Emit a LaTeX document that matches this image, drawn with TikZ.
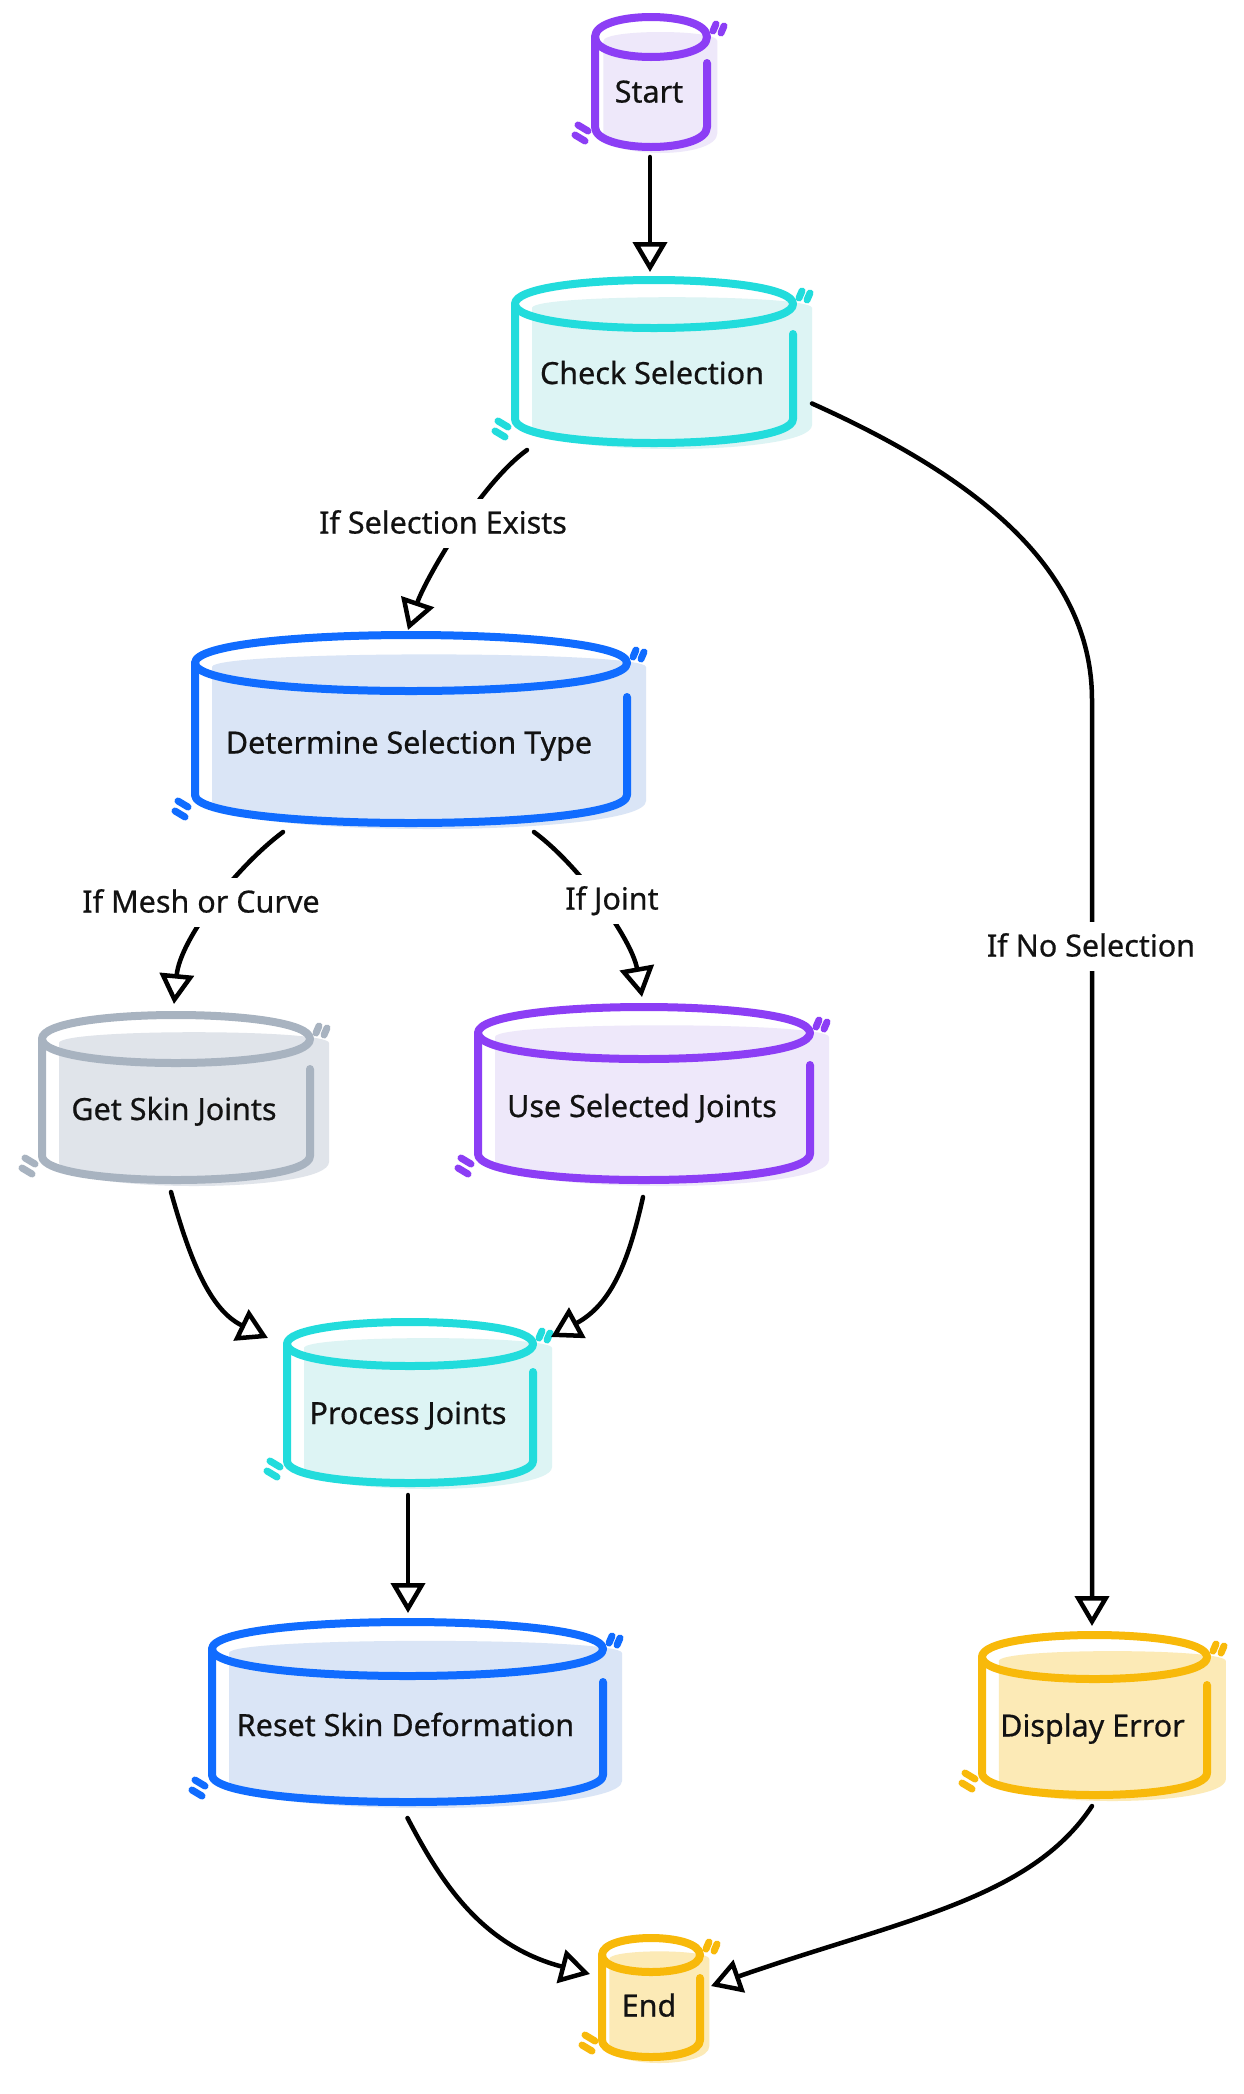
\documentclass[tikz,border=0pt]{standalone}
\usepackage{fontspec}
\setmainfont{Noto Sans}
\newfontfamily\sketchfont{Noto Sans}[FakeBold=0.6]
\usetikzlibrary{arrows.meta}
\definecolor{pustroke}{RGB}{140,62,245}
\definecolor{pufill}{RGB}{238,232,250}
\definecolor{cystroke}{RGB}{34,220,220}
\definecolor{cyfill}{RGB}{221,244,244}
\definecolor{blstroke}{RGB}{16,108,255}
\definecolor{blfill}{RGB}{218,229,246}
\definecolor{grstroke}{RGB}{168,179,192}
\definecolor{grfill}{RGB}{224,228,234}
\definecolor{yestroke}{RGB}{248,185,10}
\definecolor{yefill}{RGB}{252,234,182}
\definecolor{txtcol}{RGB}{18,18,18}

\newcommand{\sketchcyl}[8]{%
  \pgfmathsetmacro{\cyL}{#2}%
  \pgfmathsetmacro{\cyT}{#3}%
  \pgfmathsetmacro{\cyR}{#4}%
  \pgfmathsetmacro{\cyB}{#5}%
  \pgfmathsetmacro{\cyr}{#6}%
  \pgfmathsetmacro{\cyW}{\cyR-\cyL}%
  \pgfmathsetmacro{\cyH}{\cyB-\cyT}%
  \pgfmathsetmacro{\cyX}{(\cyL+\cyR)/2}%
  \pgfmathsetmacro{\cyY}{(\cyT+\cyB)/2}%
  \pgfmathsetmacro{\cyd}{min(17,0.075*\cyW)}%
  \pgfmathsetmacro{\cyE}{\cyT+\cyr}%
  \pgfmathsetmacro{\cyM}{(\cyE+\cyB)/2}%
  \pgfmathsetmacro{\cyk}{4*\cyr/3}%
  \pgfmathsetmacro{\cyF}{\cyB-\cyr}%
  \fill[#7fill] (\cyL+\cyd,\cyE+4) -- (\cyL+\cyd,\cyF+6)
     .. controls (\cyL+\cyd,\cyF+6+\cyk) and (\cyR+\cyd+2,\cyF+6+\cyk) .. (\cyR+\cyd+2,\cyF+6)
     -- (\cyR+\cyd+2,\cyE+4)
     .. controls (\cyR+\cyd+2,\cyE+4-0.6*\cyr) and (\cyL+\cyd,\cyE+4-0.6*\cyr) .. cycle;
  \node[box, minimum width=\cyW pt, minimum height=\cyH pt] (#1) at (\cyX,\cyY) {};
  \draw[cylline, draw=#7stroke] (\cyL,\cyE) .. controls (\cyL,\cyE-\cyk) and (\cyR,\cyE-\cyk) .. (\cyR,\cyE)
     .. controls (\cyR,\cyE+\cyk) and (\cyL,\cyE+\cyk) .. cycle;
  \draw[cylline, draw=#7stroke] (\cyL,\cyE) -- (\cyL,\cyF)
     .. controls (\cyL,\cyF+\cyk) and (\cyR,\cyF+\cyk) .. (\cyR,\cyF) -- (\cyR,\cyE+\cyr+6);
  \draw[tickline, draw=#7stroke] (\cyR+6,\cyE-6) -- (\cyR+9,\cyE-13)
     (\cyR+14,\cyE-4) -- (\cyR+17,\cyE-11)
     (\cyL-20,\cyB-12) -- (\cyL-10,\cyB-6)
     (\cyL-17,\cyB-22) -- (\cyL-7,\cyB-16);
  \node[nodetext] (#1-t) at (\cyX-2,\cyM) {#8};
}

\begin{document}
\begin{tikzpicture}[x=1pt,y=-1pt,
  cylline/.style={line width=8pt, line cap=round, line join=round},
  tickline/.style={line width=7pt, line cap=round},
  box/.style={draw=none, inner sep=0pt, outer sep=0pt},
  nodetext/.style={font=\sketchfont\fontsize{30.5}{36}\selectfont, text=txtcol, inner sep=0pt, text height=21pt, text depth=0pt},
  lbl/.style={font=\sketchfont\fontsize{30.5}{36}\selectfont, text=txtcol, fill=white, inner xsep=6pt, inner ysep=14pt, text height=21pt, text depth=0pt},
  flow/.style={line width=4.5pt, line cap=round, draw=black, -{Triangle[length=30pt, width=34pt, fill=white, line width=4.5pt]}}
]
\fill[white] (0,0) rectangle (1244,2094);
\useasboundingbox (0,0) rectangle (1244,2094);

\sketchcyl{start}{595}{17}{707}{147}{20}{pu}{Start}
\sketchcyl{chk}{515}{280}{793}{443}{24}{cy}{Check Selection}
\sketchcyl{det}{195}{635}{627}{823}{28}{bl}{Determine Selection Type}
\sketchcyl{skin}{42}{1015}{310}{1180}{24}{gr}{Get Skin Joints}
\sketchcyl{use}{478}{1007}{810}{1180}{26}{pu}{Use Selected Joints}
\sketchcyl{proc}{287}{1322}{533}{1483}{22}{cy}{Process Joints}
\sketchcyl{reset}{212}{1622}{603}{1802}{27}{bl}{Reset Skin Deformation}
\sketchcyl{disp}{982}{1635}{1207}{1795}{22}{ye}{Display Error}
\sketchcyl{end}{602}{1938}{700}{2057}{17}{ye}{End}

\draw[flow] ([shift={(-1,10)}]start.south) -- ([shift={(-4,-8)}]chk.north);
\draw[flow] ([shift={(12,7)}]chk.south west) .. controls (480,484) and (425,580) .. ([shift={(-3,-5)}]det.north);
\draw[flow] ([shift={(19,42)}]chk.east) .. controls (960,470) and (1092,560) .. (1092,700) -- ([shift={(-2.5,-9)}]disp.north);
\draw[flow] ([shift={(88,9)}]det.south west) .. controls (235,868) and (180,940) .. ([shift={(-2,-11)}]skin.north);
\draw[flow] ([shift={(-93,9)}]det.south east) .. controls (580,866) and (632,940) .. ([shift={(-2,-10)}]use.north);
\draw[flow] ([shift={(-5,12)}]skin.south) .. controls (190,1260) and (210,1310) .. ([shift={(-19,16)}]proc.north west);
\draw[flow] ([shift={(-1,17)}]use.south) .. controls (628,1265) and (610,1305) .. ([shift={(18,15)}]proc.north east);
\draw[flow] ([shift={(-2,12)}]proc.south) -- ([shift={(0.5,-9)}]reset.north);
\draw[flow] ([shift={(0,16)}]reset.south) .. controls (440,1880) and (480,1945) .. ([shift={(-12,-23.5)}]end.west);
\draw[flow] ([shift={(-2.5,11)}]disp.south) .. controls (1030,1900) and (900,1920) .. ([shift={(11,-11.5)}]end.east);

\node[lbl] (l1) at (443,523) {If Selection Exists};
\node[lbl] (l2) at (1091,946) {If No Selection};
\node[lbl] (l3) at (201,902) {If Mesh or Curve};
\node[lbl] (l4) at (612,899) {If Joint};
\end{tikzpicture}
\end{document}
